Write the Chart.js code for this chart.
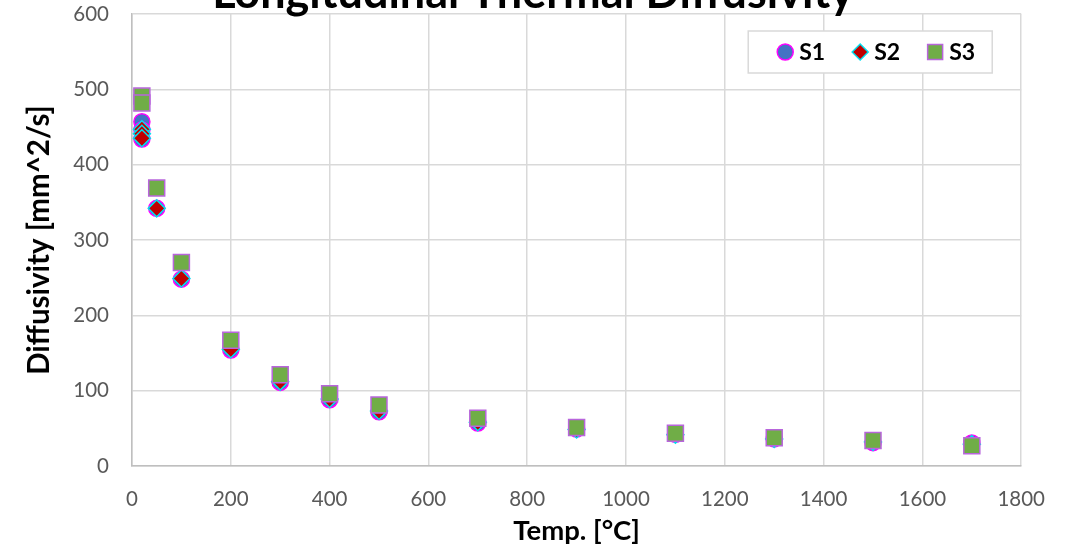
<!DOCTYPE html>
<html>
<head>
<meta charset="utf-8">
<script src="https://cdn.jsdelivr.net/npm/chart.js@4/dist/chart.umd.min.js"></script>
<style>
  html, body { margin: 0; padding: 0; background: #fff; }
  #wrap { width: 1066px; height: 550px; overflow: hidden; position: relative; }
  #grafico { position: absolute; left: 0; top: -40px; }
</style>
</head>
<body>
<div id="wrap"><canvas id="grafico" width="1066" height="590" style="width:1066px;height:590px"></canvas></div>
<script>
// dati (mm^2/s vs °C)
const s1Temp = [20, 20, 20, 50, 100, 200, 300, 400, 500, 700, 900, 1100, 1300, 1500, 1700];
const s1Diff = [457, 446, 434, 342, 248, 154, 111, 88, 72, 57, 49, 42, 36, 31, 30.5];

const s2Temp = [20, 20, 20, 50, 100, 200, 300, 400, 500, 700, 900, 1100, 1300, 1500, 1700];
const s2Diff = [447, 441, 435, 342, 249, 155, 112, 89, 73, 58, 48.5, 41.5, 36, 32, 29];

const s3Temp = [20, 20, 50, 100, 200, 300, 400, 500, 700, 900, 1100, 1300, 1500, 1700];
const s3Diff = [491, 482, 369, 270, 167, 121, 96, 81, 63.5, 51, 43.6, 37.4, 34, 27];

const xTicks = [0, 200, 400, 600, 800, 1000, 1200, 1400, 1600, 1800];
const yTicks = [0, 100, 200, 300, 400, 500, 600];

function punti(xs, ys) {
  return xs.map((x, i) => ({ x: x, y: ys[i] }));
}

function marker(ctx, style, x, y, r) {
  ctx.beginPath();
  if (style === 'circle') {
    ctx.arc(x, y, r, 0, Math.PI * 2);
  } else if (style === 'rectRot') {
    ctx.moveTo(x - r, y);
    ctx.lineTo(x, y - r);
    ctx.lineTo(x + r, y);
    ctx.lineTo(x, y + r);
    ctx.closePath();
  } else {
    ctx.rect(x - r, y - r, 2 * r, 2 * r);
  }
  ctx.fill();
  ctx.stroke();
}

// legenda dentro l'area del grafico, con cornice
const legendaBox = {
  id: 'legendaBox',
  afterDraw(chart) {
    const ctx = chart.ctx;
    const area = chart.chartArea;
    const right = area.right - 29;
    const top = area.top + 17;
    const h = 42;
    const w = 244;
    const left = right - w;
    ctx.save();
    ctx.strokeStyle = '#D9D9D9';
    ctx.lineWidth = 1.5;
    ctx.fillStyle = '#fff';
    ctx.fillRect(left, top, w, h);
    ctx.strokeRect(left, top, w, h);
    ctx.font = 'bold 23px Lato';
    ctx.textBaseline = 'middle';
    let cx = left + 29;
    const cy = top + h / 2;
    chart.data.datasets.forEach(ds => {
      ctx.fillStyle = ds.backgroundColor;
      ctx.strokeStyle = ds.borderColor;
      ctx.lineWidth = 1.5;
      const r = ds.pointStyle === 'rect' ? 7.5 : 8;
      marker(ctx, ds.pointStyle, cx + 8, cy, r);
      ctx.fillStyle = '#000';
      ctx.textAlign = 'left';
      ctx.fillText(ds.label, cx + 22, cy + 1);
      cx += 22 + ctx.measureText(ds.label).width + 27;
    });
    ctx.restore();
  }
};

Chart.defaults.font.family = 'Lato';

const ctx = document.getElementById('grafico');

new Chart(ctx, {
  type: 'scatter',
  data: {
    datasets: [
      {
        label: 'S1',
        data: punti(s1Temp, s1Diff),
        pointStyle: 'circle',
        pointRadius: 8,
        backgroundColor: '#4472C4',
        borderColor: '#FF00FF',
        borderWidth: 1.5,
        order: 3,
        clip: false
      },
      {
        label: 'S2',
        data: punti(s2Temp, s2Diff),
        pointStyle: 'rectRot',
        pointRadius: 8.5,
        backgroundColor: '#C00000',
        borderColor: '#00E0F0',
        borderWidth: 1.5,
        order: 2,
        clip: false
      },
      {
        label: 'S3',
        data: punti(s3Temp, s3Diff),
        pointStyle: 'rect',
        pointRadius: 11.3,
        backgroundColor: '#70AD47',
        borderColor: '#B865DC',
        borderWidth: 1.5,
        order: 1,
        clip: false
      }
    ]
  },
  options: {
    responsive: false,
    animation: false,
    // padding simmetrico: il titolo resta centrato sulla pagina
    layout: { padding: { left: 38, right: 38, top: 0, bottom: 0 } },
    plugins: {
      legend: { display: false },
      tooltip: { enabled: false },
      title: {
        display: true,
        text: 'Longitudinal Thermal Diffusivity',
        color: '#000',
        font: { size: 45, weight: 'bold', lineHeight: 0.8 },
        padding: { top: 15, bottom: 3 }
      }
    },
    scales: {
      x: {
        type: 'linear',
        min: 0,
        max: 1800,
        afterBuildTicks: s => { s.ticks = xTicks.map(v => ({ value: v })); },
        afterFit: s => { s.height = 84; },
        grid: { color: '#D9D9D9', lineWidth: 1.5, drawTicks: false },
        border: { color: '#BFBFBF', width: 1.5 },
        ticks: { padding: 21, color: '#595959', font: { size: 20.5 }, maxRotation: 0, callback: v => String(v) },
        title: { display: true, text: 'Temp. [°C]', color: '#000', font: { size: 27.5, weight: 'bold' }, padding: { top: 0, bottom: 2 } }
      },
      y: {
        type: 'linear',
        min: 0,
        max: 600,
        afterBuildTicks: s => { s.ticks = yTicks.map(v => ({ value: v })); },
        afterFit: s => { s.width = 94; },
        grid: { color: '#D9D9D9', lineWidth: 1.5, drawTicks: false },
        border: { color: '#BFBFBF', width: 1.5 },
        ticks: { padding: 23, color: '#595959', font: { size: 20.5 }, callback: v => String(v) },
        title: { display: true, text: 'Diffusivity [mm^2/s]', color: '#000', font: { size: 29.5, weight: 'bold' }, padding: { top: -16, bottom: 0 } }
      }
    }
  },
  plugins: [legendaBox]
});
</script>
</body>
</html>
